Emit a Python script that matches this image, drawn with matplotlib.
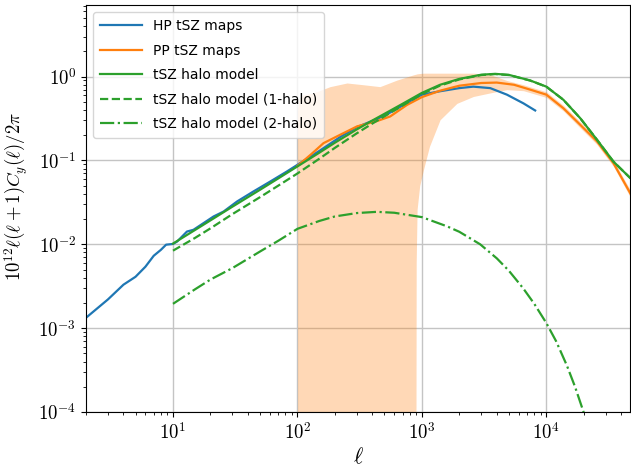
import matplotlib

matplotlib.use("Agg")
import matplotlib.pyplot as plt
import numpy as np
from matplotlib.ticker import FuncFormatter, NullFormatter

plt.rcParams["mathtext.fontset"] = "cm"
plt.rcParams["font.family"] = "DejaVu Sans"

# HP tSZ maps (full multipole range)
ell_hp = [2, 3, 4, 5, 6, 7, 8, 8.8, 10, 10.8, 12.95, 14.6, 17.6, 21.2, 25.5, 32.7, 44.3,
          60.6, 82.4, 105, 150, 220, 300, 430, 550, 750, 1000, 1400, 2000, 2590,
          3540, 4820, 6550, 8130]
cl_hp = [1.33e-3, 2.2e-3, 3.3e-3, 4.1e-3, 5.4e-3, 7.3e-3, 8.6e-3, 9.9e-3, 1.01e-2,
         0.0108, 0.0142, 0.0149, 0.0179, 0.0215, 0.0246, 0.0324, 0.0427, 0.0562,
         0.074, 0.093, 0.13, 0.19, 0.25, 0.31, 0.37, 0.48, 0.61, 0.67, 0.73, 0.76,
         0.73, 0.61, 0.48, 0.395]

# PP tSZ maps
ell_pp = [100, 130, 162, 221, 301, 435, 556, 759, 1000, 1400, 2000, 3000, 3990,
          5500, 7420, 10000, 13700, 18700, 25500, 34600, 47100, 50000]
cl_pp = [0.086, 0.12, 0.161, 0.203, 0.255, 0.295, 0.335, 0.46, 0.57, 0.68, 0.78,
         0.84, 0.85, 0.80, 0.70, 0.61, 0.42, 0.267, 0.169, 0.093, 0.041, 0.035]

# PP error band
ell_band = [100, 103, 110, 135, 183, 250, 340, 460, 630, 855, 895, 900, 915, 960,
            1030, 1150, 1400, 1910, 2590, 3540, 4820, 6550, 10000, 13700, 18700,
            25500, 34600, 47100, 50000]
band_hi = [0.385, 0.55, 0.60, 0.64, 0.76, 0.84, 0.80, 0.76, 0.91, 1.05, 1.07, 1.07,
           1.08, 1.09, 1.10, 1.10, 1.10, 1.10, 1.10, 1.06, 0.90, 0.80, 0.66, 0.455,
           0.29, 0.183, 0.10, 0.045, 0.038]
band_lo = [1e-5, 1e-5, 1e-5, 1e-5, 1e-5, 1e-5, 1e-5, 1e-5, 1e-5, 1e-5, 1e-5, 0.006,
           0.026, 0.05, 0.078, 0.147, 0.306, 0.48, 0.58, 0.64, 0.70, 0.68, 0.565,
           0.39, 0.245, 0.155, 0.085, 0.037, 0.032]

# halo model: total and 1-halo term
ell_hm = [10, 15, 20, 30, 50, 70, 100, 150, 200, 300, 400, 500, 700, 1000, 1400,
          2000, 3000, 3880, 5000, 7420, 10000, 13700, 18700, 25500, 34600, 47100,
          50000]
cl_tot = [0.0102, 0.0148, 0.0193, 0.0281, 0.0447, 0.061, 0.085, 0.124, 0.163, 0.235,
          0.30, 0.36, 0.475, 0.64, 0.80, 0.94, 1.055, 1.08, 1.05, 0.90, 0.76, 0.53,
          0.32, 0.177, 0.097, 0.062, 0.058]
cl_1h = [0.0084, 0.0119, 0.0155, 0.0229, 0.0365, 0.050, 0.070, 0.105, 0.1415, 0.211,
         0.276, 0.336, 0.452, 0.619, 0.783, 0.927, 1.045, 1.073, 1.045, 0.898, 0.759,
         0.53, 0.32, 0.177, 0.097, 0.062, 0.058]

# 2-halo term
ell_2h = [10, 15, 20, 30, 50, 70, 100, 150, 200, 300, 435, 600, 1000, 1590, 2000,
          2940, 4000, 5000, 6500, 8000, 10000, 12000, 14600, 17000, 19900, 22000]
cl_2h = [0.00195, 0.0029, 0.0038, 0.0052, 0.0082, 0.011, 0.0153, 0.019, 0.0215,
         0.0236, 0.0244, 0.0238, 0.0211, 0.0164, 0.0141, 0.0100, 0.0068, 0.00484,
         0.0030, 0.00195, 0.00115, 0.000695, 0.00036, 0.0002, 0.0001, 6.3e-5]


def pow10(v, _pos):
    return r"$10^{%d}$" % int(round(np.log10(v)))


fig = plt.figure(figsize=(6.31, 4.68), dpi=100)
ax = fig.add_axes([0.1363, 0.1197, 0.8621, 0.869])

ax.fill_between(ell_band, band_lo, band_hi, color="C1", alpha=0.3, lw=0)
ax.plot(ell_hp, cl_hp, color="C0", lw=1.6, label="HP tSZ maps")
ax.plot(ell_pp, cl_pp, color="C1", lw=1.6, label="PP tSZ maps")
ax.plot(ell_hm, cl_tot, color="C2", lw=1.6, label="tSZ halo model")
ax.plot(ell_hm, cl_1h, color="C2", lw=1.6, ls="--", label="tSZ halo model (1-halo)")
ax.plot(ell_2h, cl_2h, color="C2", lw=1.6, ls="-.", label="tSZ halo model (2-halo)")

ax.set_xscale("log")
ax.set_yscale("log")
ax.set_xlim(2, 4.7e4)
ax.set_ylim(1e-4, 7.1)
for axis in (ax.xaxis, ax.yaxis):
    axis.set_major_formatter(FuncFormatter(pow10))
    axis.set_minor_formatter(NullFormatter())
ax.grid(True, which="major", color="#c4c4c4", lw=1.0)
ax.set_axisbelow(True)
ax.tick_params(labelsize=13.5)
ax.set_xlabel(r"$\ell$", fontsize=16)
ax.set_ylabel(r"$10^{12}\ell(\ell+1)C_y(\ell)/2\pi$", fontsize=13.5)
ax.xaxis.set_label_coords(0.5, -0.085)
ax.yaxis.set_label_coords(-0.103, 0.53)
ax.legend(loc="upper left", fontsize=10, framealpha=0.8, labelspacing=0.75,
          handlelength=3.0, handletextpad=0.8, borderpad=0.5)

fig.savefig("out.png", dpi=100)
